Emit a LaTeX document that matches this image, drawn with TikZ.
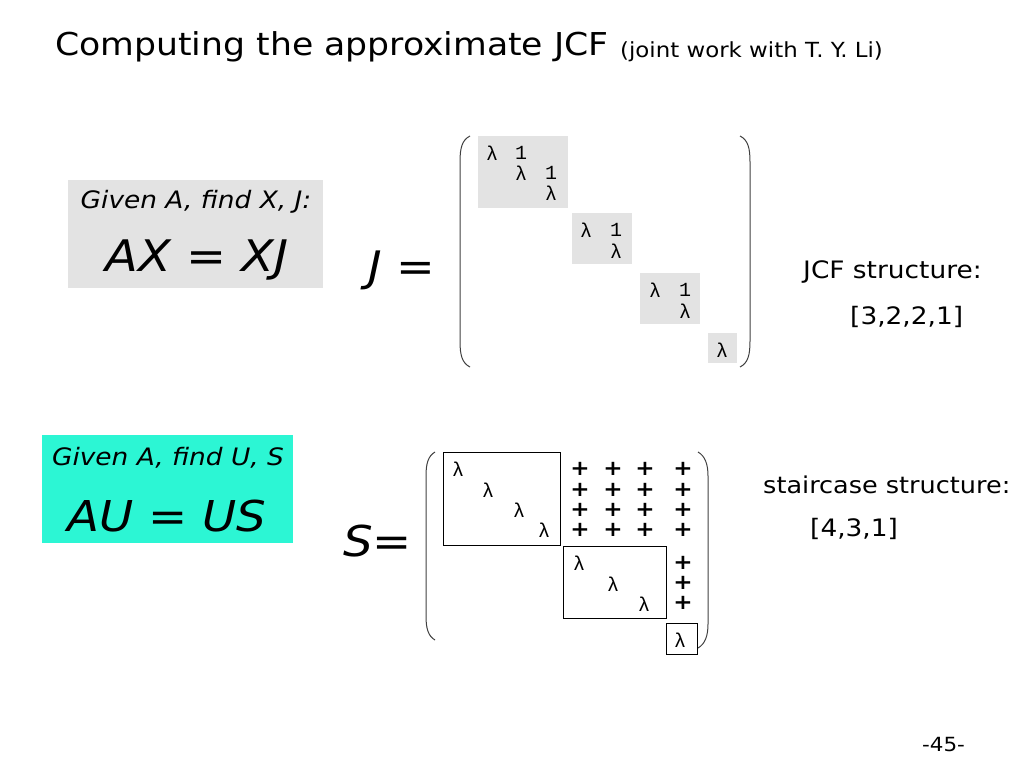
\documentclass[tikz,border=0pt]{standalone}
\usepackage{fontspec}
\setmainfont[FakeStretch=1.1]{DejaVu Sans}
\newfontfamily\lammono{Liberation Mono}
\definecolor{blockgray}{HTML}{E3E3E3}
\definecolor{givencyan}{HTML}{2CF6D4}
\definecolor{parengray}{HTML}{404040}
\begin{document}
\begin{tikzpicture}[x=1pt,y=-1pt]
\tikzset{
  txt/.style={inner sep=0pt, anchor=base west},
  label/.style={txt, font=\fontsize{24}{24}\selectfont},
  entry/.style={inner sep=0pt, font=\lammono\fontsize{20}{20}\selectfont},
  plus/.style={inner sep=0pt, font=\bfseries\fontsize{21}{21}\selectfont},
  paren/.style={draw=parengray, line width=1pt},
  stairbox/.style={draw=black, line width=0.8pt}
}
\useasboundingbox (0,0) rectangle (1024,768);
% title
\node[txt, font=\fontsize{31.5}{31.5}\selectfont] (title) at (55,56) {Computing the approximate JCF};
\node[txt, font=\fontsize{20.8}{20.8}\selectfont] (credit) at (620,57) {(joint work with T. Y. Li)};
% Jordan form
\fill[blockgray] (68,180) rectangle (323,288);
\node[font=\itshape\fontsize{24}{24}\selectfont] (givenJ) at (196,202) {Given A, find X, J:};
\node[font=\itshape\fontsize{43.5}{43.5}\selectfont] (axxj) at (197,260) {AX = XJ};
\node[txt, font=\fontsize{42}{42}\selectfont] (Jeq) at (368,281) {\itshape J\upshape\ =};
\draw[paren] (470,136) .. controls (462,140) and (460,148) .. (460,162) -- (460,341) .. controls (460,355) and (462,363) .. (470,367);
\draw[paren] (740,136) .. controls (748,140) and (750,148) .. (750,162) -- (750,341) .. controls (750,355) and (748,363) .. (740,367);
\fill[blockgray] (478,136) rectangle (568,208);
\fill[blockgray] (572,213) rectangle (632,264);
\fill[blockgray] (640,273) rectangle (700,324);
\fill[blockgray] (708,333) rectangle (737,363);
\node[entry] (j11) at (492,153) {λ};
\node[entry] (j12) at (521,153) {1};
\node[entry] (j22) at (521,173) {λ};
\node[entry] (j23) at (551,173) {1};
\node[entry] (j33) at (551,193) {λ};
\node[entry] (j44) at (586,230) {λ};
\node[entry] (j45) at (616,230) {1};
\node[entry] (j55) at (616,251) {λ};
\node[entry] (j66) at (655,290) {λ};
\node[entry] (j67) at (685,290) {1};
\node[entry] (j77) at (685,311) {λ};
\node[entry] (j88) at (722,350) {λ};
\node[label] (jcflabel) at (803,278) {JCF structure:};
\node[label] (jcfsizes) at (850,324) {[3,2,2,1]};
% staircase form
\fill[givencyan] (42,435) rectangle (293,543);
\node[font=\itshape\fontsize{24}{24}\selectfont] (givenS) at (168,458) {Given A, find U, S};
\node[font=\itshape\fontsize{42.5}{42.5}\selectfont] (auus) at (167,516) {AU = US};
\node[txt, font=\fontsize{42.5}{42.5}\selectfont] (Seq) at (343,556) {\itshape S\upshape =};
\draw[paren] (435,452) .. controls (428,456) and (426,464) .. (426,476) -- (426,616) .. controls (426,628) and (428,636) .. (435,640);
\draw[paren] (698,452) .. controls (705,456) and (708,464) .. (708,476) -- (708,624) .. controls (708,636) and (705,644) .. (698,648);
\draw[stairbox] (443,452) rectangle (560,545);
\draw[stairbox] (563,546) rectangle (666,618);
\draw[stairbox] (666,623) rectangle (697,654);
\node[entry] (s11) at (458,469) {λ};
\node[entry] (s22) at (488,490) {λ};
\node[entry] (s33) at (519,510) {λ};
\node[entry] (s44) at (544,530) {λ};
\node[entry] (s55) at (579,563) {λ};
\node[entry] (s66) at (613,584) {λ};
\node[entry] (s77) at (644,604) {λ};
\node[entry] (s88) at (680,640) {λ};
\foreach \r/\y in {1/469,2/490,3/510,4/530}
  \foreach \c/\x in {5/580,6/613,7/645,8/683}
    \node[plus] (p\r\c) at (\x,\y) {+};
\foreach \r/\y in {5/563,6/583,7/603}
  \node[plus] (p\r8) at (683,\y) {+};
\node[label, font=\fontsize{23.2}{23.2}\selectfont] (stairlabel) at (763,493) {staircase structure:};
\node[label] (stairsizes) at (810,536) {[4,3,1]};
% page number
\node[txt, font=\fontsize{19.5}{19.5}\selectfont] (pagenum) at (922,751) {-45-};
\end{tikzpicture}
\end{document}
